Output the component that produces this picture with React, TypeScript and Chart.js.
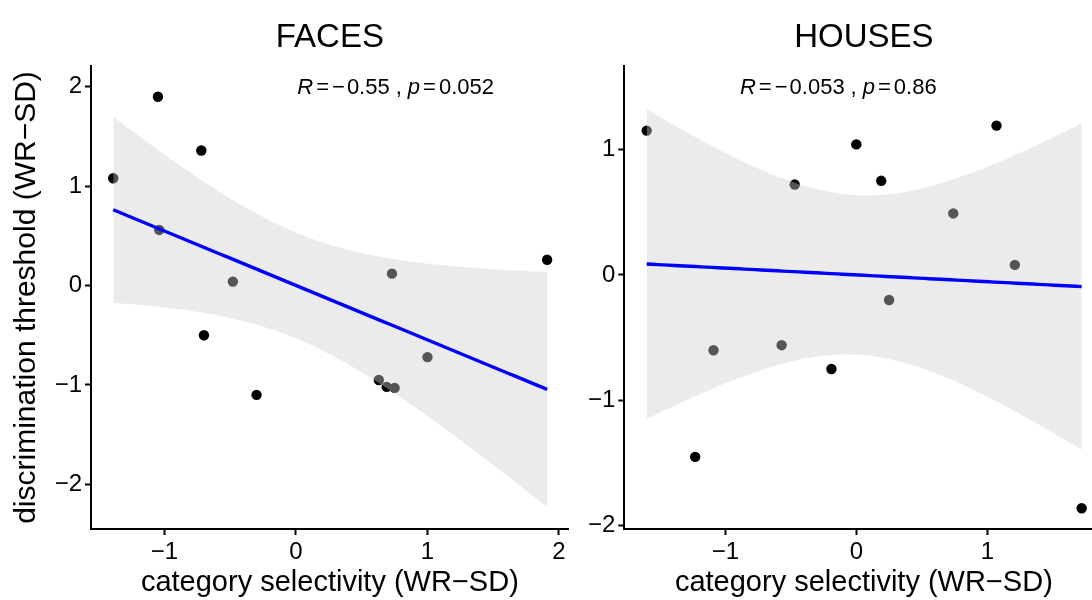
import React, { useEffect, useRef } from "react";
import { Chart, registerables } from "chart.js";

Chart.register(...registerables);

// ---- data: z-scored per-subject values ----
const FACES_SELECTIVITY = [-1.39, -1.05, -0.72, -1.04, -0.48, -0.7, -0.3, 0.73, 1.91, 1.0, 0.63, 0.69, 0.75];
const FACES_THRESHOLD = [1.08, 1.9, 1.36, 0.56, 0.04, -0.5, -1.1, 0.12, 0.26, -0.72, -0.95, -1.02, -1.03];

const HOUSES_SELECTIVITY = [-1.6, -0.47, 0.0, 0.19, 1.07, 0.74, 1.21, 0.25, -1.09, -0.57, -0.19, -1.23, 1.72];
const HOUSES_THRESHOLD = [1.15, 0.72, 1.04, 0.75, 1.19, 0.49, 0.08, -0.2, -0.6, -0.56, -0.75, -1.45, -1.86];

const FACES_X_TICKS = [-1, 0, 1, 2];
const FACES_Y_TICKS = [-2, -1, 0, 1, 2];
const HOUSES_X_TICKS = [-1, 0, 1];
const HOUSES_Y_TICKS = [-2, -1, 0, 1];

const FACES_R = "0.55";
const FACES_P = "0.052";
const HOUSES_R = "0.053";
const HOUSES_P = "0.86";

const X_TITLE = "category selectivity (WR\u2212SD)";
const Y_TITLE = "discrimination threshold (WR\u2212SD)";

// two-sided 95% t quantile for n = 13 (df = 11)
const T_975_DF11 = 2.201;

const FONT = '"Liberation Sans", Arial, Helvetica, sans-serif';
const RIBBON_FILL = "rgba(206, 206, 206, 0.41)";

type Pt = { x: number; y: number };

// Least-squares fit with its 95% confidence band, evaluated on a grid
// spanning the observed x range (as geom_smooth(method = "lm") does).
function lmBand(xs: number[], ys: number[], steps = 80) {
  const n = xs.length;
  const mx = xs.reduce((a, b) => a + b, 0) / n;
  const my = ys.reduce((a, b) => a + b, 0) / n;
  let sxx = 0;
  let sxy = 0;
  for (let i = 0; i < n; i++) {
    sxx += (xs[i] - mx) ** 2;
    sxy += (xs[i] - mx) * (ys[i] - my);
  }
  const slope = sxy / sxx;
  const icpt = my - slope * mx;
  let sse = 0;
  for (let i = 0; i < n; i++) sse += (ys[i] - icpt - slope * xs[i]) ** 2;
  const s = Math.sqrt(sse / (n - 2));
  const lo = Math.min(...xs);
  const hi = Math.max(...xs);
  const fit: Pt[] = [];
  const upper: Pt[] = [];
  const lower: Pt[] = [];
  for (let k = 0; k <= steps; k++) {
    const x = lo + ((hi - lo) * k) / steps;
    const yhat = icpt + slope * x;
    const hw = T_975_DF11 * s * Math.sqrt(1 / n + (x - mx) ** 2 / sxx);
    fit.push({ x, y: yhat });
    upper.push({ x, y: yhat + hw });
    lower.push({ x, y: yhat - hw });
  }
  return { fit, upper, lower };
}

const fmtTick = (v: number | string) => {
  const n = Number(v);
  return n < 0 ? "\u2212" + Math.abs(n) : String(n);
};

type PanelProps = {
  title: string;
  xs: number[];
  ys: number[];
  xTicks: number[];
  yTicks: number[];
  xRange: [number, number];
  yRange: [number, number];
  r: string;
  p: string;
  labelAt: [number, number];
  showYTitle: boolean;
  left: number;
  width: number;
  axisWidth: number;
  padRight: number;
};

function Panel(props: PanelProps) {
  const ref = useRef<HTMLCanvasElement>(null);

  useEffect(() => {
    const band = lmBand(props.xs, props.ys);
    const points = props.xs.map((x, i) => ({ x, y: props.ys[i] }));

    const annotate = {
      id: "panelAnnotations",
      afterDraw(chart: any) {
        const { ctx, chartArea, scales } = chart;
        ctx.save();
        ctx.fillStyle = "#000";
        ctx.textBaseline = "alphabetic";
        ctx.font = `33px ${FONT}`;
        ctx.textAlign = "center";
        ctx.fillText(props.title, (chartArea.left + chartArea.right) / 2, 47);

        // correlation label: italic R and p, negative coefficient
        const segs = [
          { t: "R", it: true, gap: 3 },
          { t: "=", it: false, gap: 3 },
          { t: "\u2212", it: false, gap: 2 },
          { t: props.r, it: false, gap: 6 },
          { t: ",", it: false, gap: 6 },
          { t: "p", it: true, gap: 3 },
          { t: "=", it: false, gap: 3 },
          { t: props.p, it: false, gap: 0 },
        ];
        let x = scales.x.getPixelForValue(props.labelAt[0]);
        const y = scales.y.getPixelForValue(props.labelAt[1]);
        ctx.textAlign = "left";
        for (const s of segs) {
          ctx.font = `${s.it ? "italic " : ""}22px ${FONT}`;
          ctx.fillText(s.t, x, y);
          x += ctx.measureText(s.t).width + s.gap;
        }
        ctx.restore();
      },
    };

    const chart = new Chart(ref.current as HTMLCanvasElement, {
      type: "scatter",
      data: {
        datasets: [
          {
            type: "scatter",
            data: points,
            backgroundColor: "#000",
            borderWidth: 0,
            pointRadius: 5.2,
            order: 4,
          },
          {
            type: "line",
            data: band.lower,
            borderWidth: 0,
            borderColor: "rgba(0,0,0,0)",
            pointRadius: 0,
            fill: false,
            order: 3,
          },
          {
            type: "line",
            data: band.upper,
            borderWidth: 0,
            borderColor: "rgba(0,0,0,0)",
            backgroundColor: RIBBON_FILL,
            pointRadius: 0,
            fill: "-1",
            order: 2,
          },
          {
            type: "line",
            data: band.fit,
            borderColor: "#0000ff",
            borderWidth: 3.4,
            pointRadius: 0,
            fill: false,
            order: 1,
          },
        ] as any,
      },
      options: {
        animation: false,
        responsive: false,
        devicePixelRatio: 1,
        events: [],
        layout: { padding: { top: 66, right: props.padRight, left: 0, bottom: 0 } },
        plugins: {
          legend: { display: false },
          tooltip: { enabled: false },
          title: { display: false },
        },
        scales: {
          x: {
            type: "linear",
            min: props.xRange[0],
            max: props.xRange[1],
            afterBuildTicks: (sc: any) => {
              sc.ticks = props.xTicks.map((v) => ({ value: v }));
            },
            afterFit: (sc: any) => {
              sc.height = 71;
            },
            grid: {
              display: true,
              drawOnChartArea: false,
              drawTicks: true,
              tickLength: 6,
              tickWidth: 2,
              tickColor: "#000",
            },
            border: { display: true, color: "#000", width: 2 },
            ticks: {
              color: "#000",
              font: { family: FONT, size: 24 },
              padding: 3,
              maxRotation: 0,
              autoSkip: false,
              callback: fmtTick,
            },
            title: {
              display: true,
              text: X_TITLE,
              color: "#000",
              font: { family: FONT, size: 29 },
              padding: { top: 0, bottom: 0 },
            },
          },
          y: {
            type: "linear",
            min: props.yRange[0],
            max: props.yRange[1],
            afterBuildTicks: (sc: any) => {
              sc.ticks = props.yTicks.map((v) => ({ value: v }));
            },
            afterFit: (sc: any) => {
              sc.width = props.axisWidth;
            },
            grid: {
              display: true,
              drawOnChartArea: false,
              drawTicks: true,
              tickLength: 6,
              tickWidth: 2,
              tickColor: "#000",
            },
            border: { display: true, color: "#000", width: 2 },
            ticks: {
              color: "#000",
              font: { family: FONT, size: 24 },
              padding: 3,
              autoSkip: false,
              callback: fmtTick,
            },
            title: {
              display: props.showYTitle,
              text: Y_TITLE,
              color: "#000",
              font: { family: FONT, size: 30 },
              padding: { top: 9, bottom: 0 },
            },
          },
        },
      } as any,
      plugins: [annotate],
    });
    return () => chart.destroy();
  }, []);

  return (
    <canvas
      ref={ref}
      width={props.width}
      height={600}
      style={{ position: "absolute", left: props.left, top: 0, width: props.width, height: 600 }}
    />
  );
}

export default function App() {
  return (
    <div
      style={{
        position: "absolute",
        left: 0,
        top: 0,
        width: 1092,
        height: 600,
        overflow: "hidden",
        background: "#fff",
      }}
    >
      <Panel
        title="FACES"
        xs={FACES_SELECTIVITY}
        ys={FACES_THRESHOLD}
        xTicks={FACES_X_TICKS}
        yTicks={FACES_Y_TICKS}
        xRange={[-1.559, 2.074]}
        yRange={[-2.45, 2.21]}
        r={FACES_R}
        p={FACES_P}
        labelAt={[0.01, 1.93]}
        showYTitle={true}
        left={0}
        width={575}
        axisWidth={91}
        padRight={6.3}
      />
      <Panel
        title="HOUSES"
        xs={HOUSES_SELECTIVITY}
        ys={HOUSES_THRESHOLD}
        xTicks={HOUSES_X_TICKS}
        yTicks={HOUSES_Y_TICKS}
        xRange={[-1.771, 1.886]}
        yRange={[-2.025, 1.665]}
        r={HOUSES_R}
        p={HOUSES_P}
        labelAt={[-0.888, 1.445]}
        showYTitle={false}
        left={572}
        width={540}
        axisWidth={52.3}
        padRight={8.6}
      />
    </div>
  );
}
